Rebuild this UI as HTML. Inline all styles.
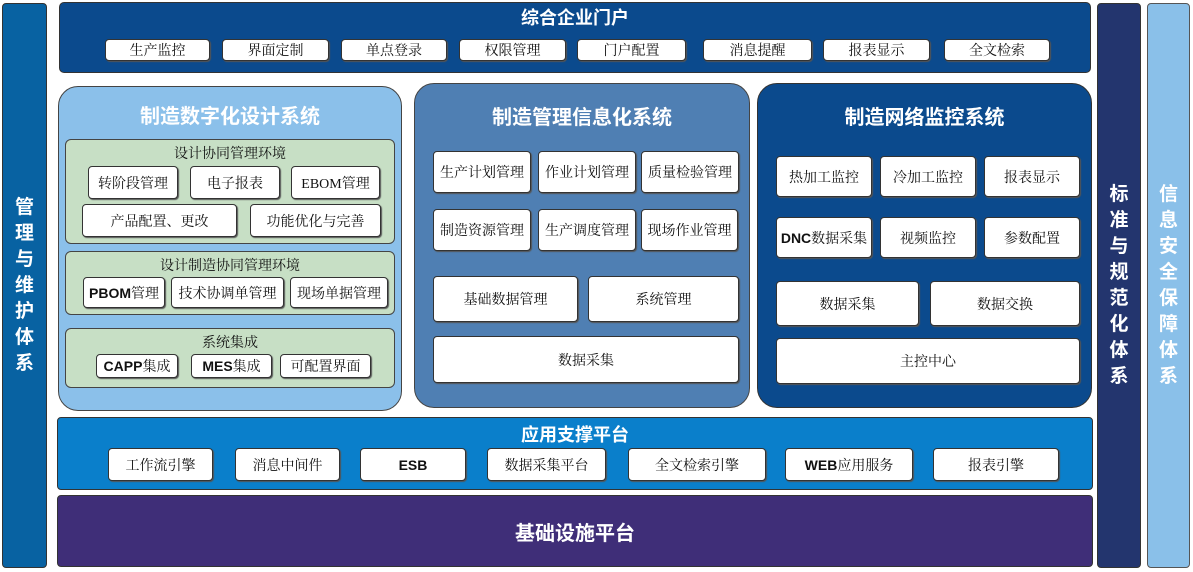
<!DOCTYPE html>
<html><head><meta charset="utf-8"><style>
*{margin:0;padding:0;box-sizing:border-box}
body{width:1193px;height:572px;background:#fff;position:relative;overflow:hidden;font-family:"Liberation Serif","Noto Serif CJK SC",serif}
.a{position:absolute}
.b{position:absolute;background:#fff;border:1.5px solid #333;border-radius:4px;display:flex;align-items:center;justify-content:center;font-size:14px;color:#111;box-shadow:1px 1px 1px #555;white-space:nowrap}
.bb{font-family:"Liberation Sans","Noto Sans CJK SC",sans-serif;font-weight:bold}
.t{position:absolute;color:#fff;font-family:"Liberation Sans","Noto Sans CJK SC",sans-serif;font-weight:bold;text-align:center}
.v{display:flex;flex-direction:column;align-items:center;justify-content:center;font-size:19px;line-height:26px}
.g{position:absolute;background:#c7dfc5;border:1.5px solid #444;border-radius:6px}
.gt{position:absolute;width:100%;text-align:center;font-size:14px;color:#111}
</style></head><body>
<div class="a t v" style="left:2px;top:3px;width:45px;height:565px;background:#0862a2;border:1px solid #333;border-radius:4px">管<br>理<br>与<br>维<br>护<br>体<br>系</div>
<div class="a t v" style="left:1097px;top:3px;width:44px;height:565px;background:#23356e;border:1px solid #333;border-radius:4px">标<br>准<br>与<br>规<br>范<br>化<br>体<br>系</div>
<div class="a t v" style="left:1147px;top:3px;width:43px;height:565px;background:#8ac0e9;border:1px solid #555;border-radius:4px">信<br>息<br>安<br>全<br>保<br>障<br>体<br>系</div>

<div class="a" style="left:59px;top:2px;width:1032px;height:71px;background:#0b4a8d;border:1px solid #333;border-radius:5px"></div>
<div class="t" style="left:59px;top:4px;width:1032px;font-size:18px">综合企业门户</div>
<div class="b" style="left:105px;top:39px;width:105px;height:22px">生产监控</div>
<div class="b" style="left:222px;top:39px;width:107px;height:22px">界面定制</div>
<div class="b" style="left:341px;top:39px;width:106px;height:22px">单点登录</div>
<div class="b" style="left:459px;top:39px;width:107px;height:22px">权限管理</div>
<div class="b" style="left:577px;top:39px;width:109px;height:22px">门户配置</div>
<div class="b" style="left:703px;top:39px;width:109px;height:22px">消息提醒</div>
<div class="b" style="left:823px;top:39px;width:107px;height:22px">报表显示</div>
<div class="b" style="left:944px;top:39px;width:106px;height:22px">全文检索</div>

<div class="a" style="left:58px;top:86px;width:344px;height:325px;background:#8bc0ea;border:1.5px solid #444;border-radius:20px"></div>
<div class="t" style="left:58px;top:100px;width:344px;font-size:20px">制造数字化设计系统</div>
<div class="g" style="left:65px;top:139px;width:330px;height:105px"><div class="gt" style="top:3px">设计协同管理环境</div></div>
<div class="b" style="left:88px;top:166px;width:90px;height:33px">转阶段管理</div>
<div class="b" style="left:190px;top:166px;width:90px;height:33px">电子报表</div>
<div class="b" style="left:291px;top:166px;width:89px;height:33px">EBOM管理</div>
<div class="b" style="left:82px;top:204px;width:155px;height:33px">产品配置、更改</div>
<div class="b" style="left:250px;top:204px;width:131px;height:33px">功能优化与完善</div>
<div class="g" style="left:65px;top:251px;width:330px;height:64px"><div class="gt" style="top:3px">设计制造协同管理环境</div></div>
<div class="b" style="left:83px;top:277px;width:82px;height:31px"><span class="bb">PBOM</span>管理</div>
<div class="b" style="left:171px;top:277px;width:113px;height:31px">技术协调单管理</div>
<div class="b" style="left:290px;top:277px;width:98px;height:31px">现场单据管理</div>
<div class="g" style="left:65px;top:328px;width:330px;height:60px"><div class="gt" style="top:3px">系统集成</div></div>
<div class="b" style="left:96px;top:354px;width:82px;height:24px"><span class="bb">CAPP</span>集成</div>
<div class="b" style="left:191px;top:354px;width:81px;height:24px"><span class="bb">MES</span>集成</div>
<div class="b" style="left:280px;top:354px;width:91px;height:24px">可配置界面</div>

<div class="a" style="left:414px;top:83px;width:336px;height:325px;background:#4f7fb3;border:1.5px solid #444;border-radius:20px"></div>
<div class="t" style="left:414px;top:101px;width:336px;font-size:20px">制造管理信息化系统</div>
<div class="b" style="left:433px;top:151px;width:98px;height:42px">生产计划管理</div>
<div class="b" style="left:538px;top:151px;width:98px;height:42px">作业计划管理</div>
<div class="b" style="left:641px;top:151px;width:98px;height:42px">质量检验管理</div>
<div class="b" style="left:433px;top:209px;width:98px;height:42px">制造资源管理</div>
<div class="b" style="left:538px;top:209px;width:98px;height:42px">生产调度管理</div>
<div class="b" style="left:641px;top:209px;width:97px;height:42px">现场作业管理</div>
<div class="b" style="left:433px;top:276px;width:145px;height:46px">基础数据管理</div>
<div class="b" style="left:588px;top:276px;width:151px;height:46px">系统管理</div>
<div class="b" style="left:433px;top:336px;width:306px;height:47px">数据采集</div>

<div class="a" style="left:757px;top:83px;width:335px;height:325px;background:#0b4a8d;border:1.5px solid #333;border-radius:20px"></div>
<div class="t" style="left:757px;top:101px;width:335px;font-size:20px">制造网络监控系统</div>
<div class="b" style="left:776px;top:156px;width:96px;height:41px">热加工监控</div>
<div class="b" style="left:880px;top:156px;width:96px;height:41px">冷加工监控</div>
<div class="b" style="left:984px;top:156px;width:96px;height:41px">报表显示</div>
<div class="b" style="left:776px;top:217px;width:96px;height:41px"><span class="bb">DNC</span>数据采集</div>
<div class="b" style="left:880px;top:217px;width:96px;height:41px">视频监控</div>
<div class="b" style="left:984px;top:217px;width:96px;height:41px">参数配置</div>
<div class="b" style="left:776px;top:281px;width:143px;height:45px">数据采集</div>
<div class="b" style="left:930px;top:281px;width:150px;height:45px">数据交换</div>
<div class="b" style="left:776px;top:338px;width:304px;height:46px">主控中心</div>

<div class="a" style="left:57px;top:417px;width:1036px;height:73px;background:#0a7fcb;border:1px solid #333;border-radius:4px"></div>
<div class="t" style="left:57px;top:421px;width:1036px;font-size:18px">应用支撑平台</div>
<div class="b" style="left:108px;top:448px;width:105px;height:33px">工作流引擎</div>
<div class="b" style="left:235px;top:448px;width:105px;height:33px">消息中间件</div>
<div class="b bb" style="left:360px;top:448px;width:106px;height:33px">ESB</div>
<div class="b" style="left:487px;top:448px;width:119px;height:33px">数据采集平台</div>
<div class="b" style="left:628px;top:448px;width:138px;height:33px">全文检索引擎</div>
<div class="b" style="left:785px;top:448px;width:128px;height:33px"><span class="bb">WEB</span>应用服务</div>
<div class="b" style="left:933px;top:448px;width:126px;height:33px">报表引擎</div>

<div class="a" style="left:57px;top:495px;width:1036px;height:72px;background:#3f2e78;border:1px solid #333;border-radius:4px"></div>
<div class="t" style="left:57px;top:517px;width:1036px;font-size:20px">基础设施平台</div>
</body></html>
